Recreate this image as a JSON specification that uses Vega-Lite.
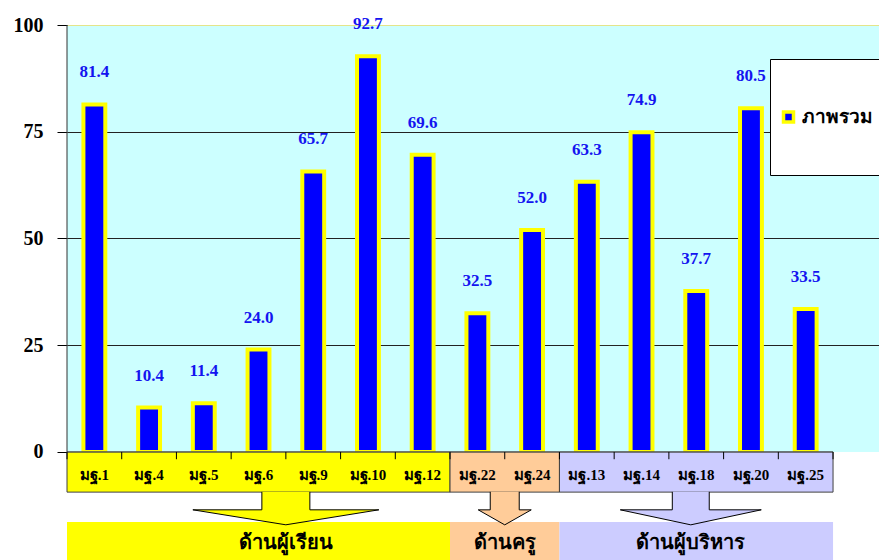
{
  "$schema": "https://vega.github.io/schema/vega-lite/v6.json",
  "width": 812,
  "height": 535,
  "autosize": "none",
  "padding": {"left": 67, "top": 25, "right": 0, "bottom": 0},
  "background": "white",
  "config": {"view": {"fill": "#ccffff", "stroke": null}},
  "datasets": {
    "bars": [
      {"cat": "มฐ.1", "value": 81.4},
      {"cat": "มฐ.4", "value": 10.4},
      {"cat": "มฐ.5", "value": 11.4},
      {"cat": "มฐ.6", "value": 24.0},
      {"cat": "มฐ.9", "value": 65.7},
      {"cat": "มฐ.10", "value": 92.7},
      {"cat": "มฐ.12", "value": 69.6},
      {"cat": "มฐ.22", "value": 32.5},
      {"cat": "มฐ.24", "value": 52.0},
      {"cat": "มฐ.13", "value": 63.3},
      {"cat": "มฐ.14", "value": 74.9},
      {"cat": "มฐ.18", "value": 37.7},
      {"cat": "มฐ.20", "value": 80.5},
      {"cat": "มฐ.25", "value": 33.5}
    ],
    "groups": [
      {"group": "ด้านผู้เรียน", "start": "มฐ.1", "end": "มฐ.12", "mid": "มฐ.9"},
      {"group": "ด้านครู", "start": "มฐ.22", "end": "มฐ.24", "mid": "มฐ.24"},
      {"group": "ด้านผู้บริหาร", "start": "มฐ.13", "end": "มฐ.25", "mid": "มฐ.18"}
    ],
    "blank": [{}]
  },
  "layer": [
    {
      "data": {"name": "blank"},
      "mark": {"type": "rect", "fill": "white"},
      "encoding": {
        "x": {"datum": "มฐ.1", "type": "nominal", "bandPosition": 0, "axis": null},
        "x2": {"datum": "มฐ.25", "bandPosition": 1.9},
        "y": {
          "datum": 0, "type": "quantitative", "title": null,
          "scale": {"domain": [-25.3, 100], "nice": false, "zero": false},
          "axis": {
            "values": [0, 25, 50, 75, 100], "domain": false, "tickSize": 10, "tickColor": "black",
            "labelFont": "Liberation Serif", "labelFontSize": 20, "labelFontWeight": "bold",
            "labelColor": "black", "labelPadding": 14, "title": null, "grid": true,
            "gridColor": {"condition": {"test": "datum.value == 100", "value": "#e4e48a"}, "value": "#222222"}
          }
        },
        "y2": {"datum": -25.3}
      }
    },
    {
      "data": {"name": "bars"},
      "mark": {"type": "bar", "stroke": "#ffff00", "strokeWidth": 4, "width": {"band": 0.4}},
      "encoding": {
        "x": {
          "field": "cat", "type": "nominal", "sort": null, "axis": null,
          "scale": {
            "domain": ["มฐ.1", "มฐ.4", "มฐ.5", "มฐ.6", "มฐ.9", "มฐ.10", "มฐ.12", "มฐ.22", "มฐ.24", "มฐ.13", "มฐ.14", "มฐ.18", "มฐ.20", "มฐ.25"],
            "paddingInner": 0, "paddingOuter": 0.42, "align": 0
          }
        },
        "y": {"field": "value", "type": "quantitative", "title": null},
        "fill": {
          "datum": "ภาพรวม", "type": "nominal",
          "scale": {"range": ["#0000ff"]},
          "legend": {
            "orient": "none", "legendX": 703, "legendY": 34, "title": null,
            "fillColor": "white", "strokeColor": "black", "padding": 9,
            "symbolType": "square", "symbolSize": 100, "symbolStrokeColor": "#ffff00",
            "symbolStrokeWidth": 3.5, "labelFont": "Noto Sans", "labelFontSize": 19,
            "labelFontWeight": "bold", "labelColor": "black", "labelOffset": 4, "clipHeight": 98, "labelLimit": 300
          }
        }
      }
    },
    {
      "data": {"name": "bars"},
      "mark": {"type": "text", "font": "Liberation Serif", "fontSize": 17, "fontWeight": "bold", "color": "#1414f0", "baseline": "middle", "dy": -32},
      "encoding": {
        "x": {"field": "cat", "type": "nominal", "sort": null, "axis": null},
        "y": {"field": "value", "type": "quantitative", "title": null},
        "text": {"field": "value", "type": "quantitative", "format": ".1f"}
      }
    },
    {
      "data": {"name": "groups"},
      "mark": {"type": "rect", "stroke": "#404040", "strokeWidth": 1},
      "encoding": {
        "x": {"field": "start", "type": "nominal", "bandPosition": 0, "axis": null},
        "x2": {"field": "end", "bandPosition": 1},
        "y": {"datum": 0, "type": "quantitative", "title": null},
        "y2": {"datum": -9.4},
        "color": {
          "field": "group", "type": "nominal", "legend": null,
          "scale": {"domain": ["ด้านผู้เรียน", "ด้านครู", "ด้านผู้บริหาร"], "range": ["#ffff00", "#ffcc99", "#ccccff"]}
        }
      }
    },
    {
      "data": {"name": "blank"},
      "mark": {"type": "rule", "color": "#555555", "strokeWidth": 1},
      "encoding": {
        "x": {"datum": "มฐ.1", "type": "nominal", "bandPosition": 0, "axis": null},
        "x2": {"datum": "มฐ.25", "bandPosition": 1},
        "y": {"datum": 0, "type": "quantitative", "title": null}
      }
    },
    {
      "data": {"name": "bars"},
      "mark": {"type": "rule", "color": "black", "strokeWidth": 1},
      "encoding": {
        "x": {"field": "cat", "type": "nominal", "bandPosition": 0, "axis": null},
        "y": {"datum": 0, "type": "quantitative", "title": null},
        "y2": {"datum": -1.7}
      }
    },
    {
      "data": {"name": "bars"},
      "transform": [{"filter": "datum.cat == 'มฐ.25'"}],
      "mark": {"type": "rule", "color": "black", "strokeWidth": 1},
      "encoding": {
        "x": {"field": "cat", "type": "nominal", "bandPosition": 1, "axis": null},
        "y": {"datum": 0, "type": "quantitative", "title": null},
        "y2": {"datum": -1.7}
      }
    },
    {
      "data": {"name": "bars"},
      "mark": {"type": "text", "font": "Liberation Serif", "fontSize": 15, "fontWeight": "bold", "color": "black", "baseline": "middle"},
      "encoding": {
        "x": {"field": "cat", "type": "nominal", "axis": null},
        "y": {"datum": -5.4, "type": "quantitative", "title": null},
        "text": {"field": "cat"}
      }
    },
    {
      "data": {"name": "groups"},
      "mark": {"type": "rect"},
      "encoding": {
        "x": {"field": "start", "type": "nominal", "bandPosition": 0, "axis": null},
        "x2": {"field": "end", "bandPosition": 1},
        "y": {"datum": -16.4, "type": "quantitative", "title": null},
        "y2": {"datum": -25.3},
        "color": {"field": "group", "type": "nominal", "legend": null}
      }
    },
    {
      "data": {"name": "groups"},
      "transform": [{"filter": "datum.group == 'ด้านผู้เรียน'"}],
      "mark": {"type": "point", "filled": true, "opacity": 1, "fill": "#ffff00", "stroke": "black", "strokeWidth": 1, "size": 34596,
        "shape": "M0.258,-0.177L0.258,0.016L1,0.016L0,0.177L-1,0.016L-0.258,0.016L-0.258,-0.177"},
      "encoding": {
        "x": {"field": "mid", "type": "nominal", "bandPosition": 0, "axis": null},
        "y": {"datum": -13.2, "type": "quantitative", "title": null}
      }
    },
    {
      "data": {"name": "groups"},
      "transform": [{"filter": "datum.group == 'ด้านครู'"}],
      "mark": {"type": "point", "filled": true, "opacity": 1, "fill": "#ffcc99", "stroke": "black", "strokeWidth": 1, "size": 2809,
        "shape": "M0.547,-0.623L0.547,0.057L1,0.057L0,0.623L-1,0.057L-0.547,0.057L-0.547,-0.623"},
      "encoding": {
        "x": {"field": "mid", "type": "nominal", "bandPosition": 0, "axis": null},
        "y": {"datum": -13.2, "type": "quantitative", "title": null}
      }
    },
    {
      "data": {"name": "groups"},
      "transform": [{"filter": "datum.group == 'ด้านผู้บริหาร'"}],
      "mark": {"type": "point", "filled": true, "opacity": 1, "fill": "#ccccff", "stroke": "black", "strokeWidth": 1, "size": 19881,
        "shape": "M0.262,-0.234L0.262,0.021L1,0.021L0,0.234L-1,0.021L-0.262,0.021L-0.262,-0.234"},
      "encoding": {
        "x": {"field": "mid", "type": "nominal", "bandPosition": 0.4, "axis": null},
        "y": {"datum": -13.2, "type": "quantitative", "title": null}
      }
    },
    {
      "data": {"name": "groups"},
      "transform": [{"filter": "datum.group != 'ด้านผู้บริหาร'"}],
      "mark": {"type": "text", "font": "Liberation Serif", "fontSize": 20, "fontWeight": "bold", "color": "black", "baseline": "middle"},
      "encoding": {
        "x": {"field": "mid", "type": "nominal", "bandPosition": 0, "axis": null},
        "y": {"datum": -21.3, "type": "quantitative", "title": null},
        "text": {"field": "group"}
      }
    },
    {
      "data": {"name": "groups"},
      "transform": [{"filter": "datum.group == 'ด้านผู้บริหาร'"}],
      "mark": {"type": "text", "font": "Liberation Serif", "fontSize": 20, "fontWeight": "bold", "color": "black", "baseline": "middle"},
      "encoding": {
        "x": {"field": "mid", "type": "nominal", "bandPosition": 0.4, "axis": null},
        "y": {"datum": -21.3, "type": "quantitative", "title": null},
        "text": {"field": "group"}
      }
    },
    {
      "data": {"name": "blank"},
      "mark": {"type": "rule", "color": "#333333", "strokeWidth": 1},
      "encoding": {
        "x": {"datum": "มฐ.1", "type": "nominal", "bandPosition": 0, "axis": null},
        "y": {"datum": 0, "type": "quantitative", "title": null},
        "y2": {"datum": 100}
      }
    }
  ]
}
